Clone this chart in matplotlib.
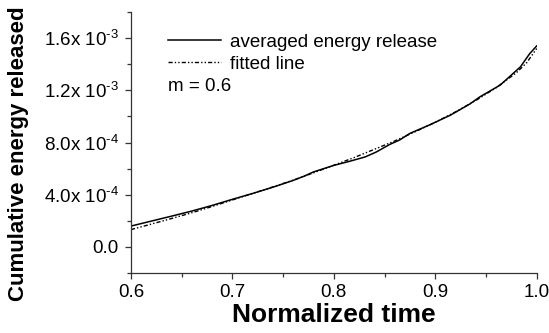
import matplotlib.pyplot as plt
from matplotlib.ticker import MultipleLocator, FixedLocator

plt.rcParams['font.family'] = ['Liberation Sans', 'DejaVu Sans']
plt.rcParams['mathtext.fontset'] = 'custom'
plt.rcParams['mathtext.rm'] = 'Liberation Sans'
plt.rcParams['mathtext.it'] = 'Liberation Sans:italic'
plt.rcParams['mathtext.bf'] = 'Liberation Sans:bold'

# averaged energy release
t_avg = [0.600, 0.620, 0.640, 0.660, 0.680, 0.700, 0.720, 0.740, 0.760, 0.770,
         0.780, 0.800, 0.815, 0.831, 0.842, 0.855, 0.865, 0.875, 0.895, 0.915,
         0.934, 0.944, 0.964, 0.984, 0.993, 1.000]
e_avg = [1.60, 1.98, 2.36, 2.75, 3.18, 3.65, 4.10, 4.58, 5.10, 5.40,
         5.75, 6.25, 6.55, 6.90, 7.28, 7.85, 8.20, 8.70, 9.37, 10.10,
         10.95, 11.50, 12.40, 13.80, 14.80, 15.40]

# fitted line
t_fit = [0.600, 0.620, 0.640, 0.660, 0.680, 0.700, 0.720, 0.740, 0.760, 0.780,
         0.800, 0.820, 0.840, 0.860, 0.880, 0.900, 0.920, 0.940, 0.960, 0.980,
         0.990, 1.000]
e_fit = [1.33, 1.75, 2.18, 2.62, 3.10, 3.60, 4.10, 4.60, 5.12, 5.68,
         6.26, 6.85, 7.48, 8.12, 8.82, 9.55, 10.35, 11.22, 12.20, 13.35,
         14.10, 15.20]
scale = 1e-4

yticks = [0.0, 4e-4, 8e-4, 1.2e-3, 1.6e-3]
ylabels = ['0.0', r'$\mathregular{4.0x\ 10^{‐4}}$', r'$\mathregular{8.0x\ 10^{‐4}}$',
           r'$\mathregular{1.2x\ 10^{‐3}}$', r'$\mathregular{1.6x\ 10^{‐3}}$']

fig = plt.figure(figsize=(5.49, 3.33), dpi=100)
ax = fig.add_axes([0.2386, 0.180, 0.739, 0.784])

ax.plot(t_avg, [v * scale for v in e_avg], color='black', lw=1.1,
        label='averaged energy release')
ax.plot(t_fit, [v * scale for v in e_fit], color='black', lw=1.0,
        dashes=(3, 1.5, 1, 1.5, 1, 1.5), label='fitted line')

ax.set_xlim(0.6, 1.0)
ax.set_ylim(-2e-4, 1.8e-3)
ax.xaxis.set_major_locator(MultipleLocator(0.1))
ax.xaxis.set_minor_locator(MultipleLocator(0.05))
ax.yaxis.set_major_locator(FixedLocator(yticks))
ax.yaxis.set_minor_locator(MultipleLocator(2e-4))
ax.set_yticklabels(ylabels)
ax.set_xticks([0.6, 0.7, 0.8, 0.9, 1.0])
ax.set_xticklabels(['0.6', '0.7', '0.8', '0.9', '1.0'])

for s in ['top', 'right']:
    ax.spines[s].set_visible(False)
for s in ['left', 'bottom']:
    ax.spines[s].set_linewidth(0.9)
    ax.spines[s].set_color('#333333')
ax.tick_params(which='major', direction='out', length=4, width=0.9,
               labelsize=13.5, color='#333333')
ax.tick_params(axis='y', which='major', pad=5)
ax.tick_params(axis='x', which='major', pad=4)
ax.tick_params(which='minor', direction='out', length=3, width=0.9,
               color='#333333')

ax.set_xlabel('Normalized time', fontsize=19, fontweight='bold', labelpad=1)
ax.set_ylabel('Cumulative energy released', fontsize=16, fontweight='bold')
ax.yaxis.set_label_coords(-0.252, 0.456)

ax.legend(loc='upper left', bbox_to_anchor=(0.092, 0.916), frameon=False,
          fontsize=13.5, handlelength=2.8, handletextpad=0.5, borderpad=0,
          borderaxespad=0, labelspacing=0.25)
ax.text(0.091, 0.714, 'm = 0.6', transform=ax.transAxes, fontsize=13.5,
        va='center', ha='left')

fig.savefig('out.png', dpi=100)
